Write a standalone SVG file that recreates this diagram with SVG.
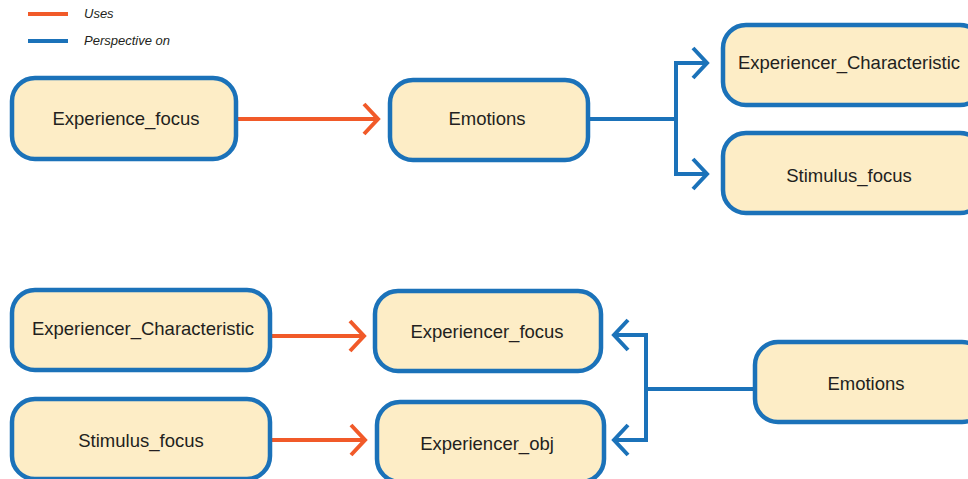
<svg xmlns="http://www.w3.org/2000/svg" width="968" height="479" viewBox="0 0 968 479">
  <style>
    .box { fill: #fdedc6; stroke: #1b72b9; stroke-width: 4.5; }
    .lbl { font-family: "Liberation Sans", Arial, sans-serif; font-size: 18.5px; fill: #231f20; text-anchor: middle; dominant-baseline: central; }
    .leg { font-family: "Liberation Sans", Arial, sans-serif; font-size: 13px; font-style: italic; fill: #231f20; }
    .uses { fill: none; stroke: #f15a29; stroke-width: 4; }
    .persp { fill: none; stroke: #1b72b9; stroke-width: 4; }
  </style>
  <defs>
    <marker id="headO" markerUnits="userSpaceOnUse" viewBox="-20 -20 24 40" markerWidth="24" markerHeight="40" refX="0" refY="0" orient="auto" overflow="visible">
      <path d="M-14,-15 L0,0 L-14,15" fill="none" stroke="#f15a29" stroke-width="4"/>
    </marker>
    <marker id="headB" markerUnits="userSpaceOnUse" viewBox="-20 -20 24 40" markerWidth="24" markerHeight="40" refX="0" refY="0" orient="auto" overflow="visible">
      <path d="M-14,-15 L0,0 L-14,15" fill="none" stroke="#1b72b9" stroke-width="4"/>
    </marker>
  </defs>

  <!-- legend -->
  <g id="legend">
    <line x1="28" y1="14" x2="68" y2="14" stroke="#f15a29" stroke-width="4"/>
    <text class="leg" x="84" y="18">Uses</text>
    <line x1="28" y1="41" x2="68" y2="41" stroke="#1b72b9" stroke-width="4"/>
    <text class="leg" x="84" y="45">Perspective on</text>
  </g>

  <!-- connectors -->
  <g id="connectors">
    <path class="uses" d="M236,119 H378" marker-end="url(#headO)"/>
    <path class="persp" d="M588,119 H676 V63 H707" marker-end="url(#headB)"/>
    <path class="persp" d="M676,119 V174 H707" marker-end="url(#headB)"/>
    <path class="uses" d="M270,336 H364" marker-end="url(#headO)"/>
    <path class="uses" d="M270,440 H365" marker-end="url(#headO)"/>
    <path class="persp" d="M755,389 H646 V335 H614" marker-end="url(#headB)"/>
    <path class="persp" d="M646,389 V440 H614" marker-end="url(#headB)"/>
  </g>

  <!-- top row -->
  <g id="experience_focus">
    <rect class="box" x="12" y="78" width="224" height="81" rx="23"/>
    <text class="lbl" x="126" y="118">Experience_focus</text>
  </g>
  <g id="emotions_top">
    <rect class="box" x="390" y="80" width="198" height="80" rx="23"/>
    <text class="lbl" x="487" y="118">Emotions</text>
  </g>
  <g id="experiencer_characteristic_top">
    <rect class="box" x="723" y="25" width="260" height="80" rx="23"/>
    <text class="lbl" x="849" y="62">Experiencer_Characteristic</text>
  </g>
  <g id="stimulus_focus_top">
    <rect class="box" x="723" y="133" width="260" height="80" rx="23"/>
    <text class="lbl" x="849" y="175">Stimulus_focus</text>
  </g>

  <!-- bottom row -->
  <g id="experiencer_characteristic_bottom">
    <rect class="box" x="12" y="290" width="258" height="80" rx="23"/>
    <text class="lbl" x="143" y="328">Experiencer_Characteristic</text>
  </g>
  <g id="stimulus_focus_bottom">
    <rect class="box" x="12" y="399" width="258" height="80" rx="23"/>
    <text class="lbl" x="141" y="440">Stimulus_focus</text>
  </g>
  <g id="experiencer_focus">
    <rect class="box" x="375" y="291" width="226" height="80" rx="23"/>
    <text class="lbl" x="487" y="331">Experiencer_focus</text>
  </g>
  <g id="experiencer_obj">
    <rect class="box" x="377" y="402" width="227" height="80" rx="23"/>
    <text class="lbl" x="487" y="443">Experiencer_obj</text>
  </g>
  <g id="emotions_bottom">
    <rect class="box" x="755" y="342" width="230" height="80" rx="23"/>
    <text class="lbl" x="866" y="383">Emotions</text>
  </g>
</svg>
